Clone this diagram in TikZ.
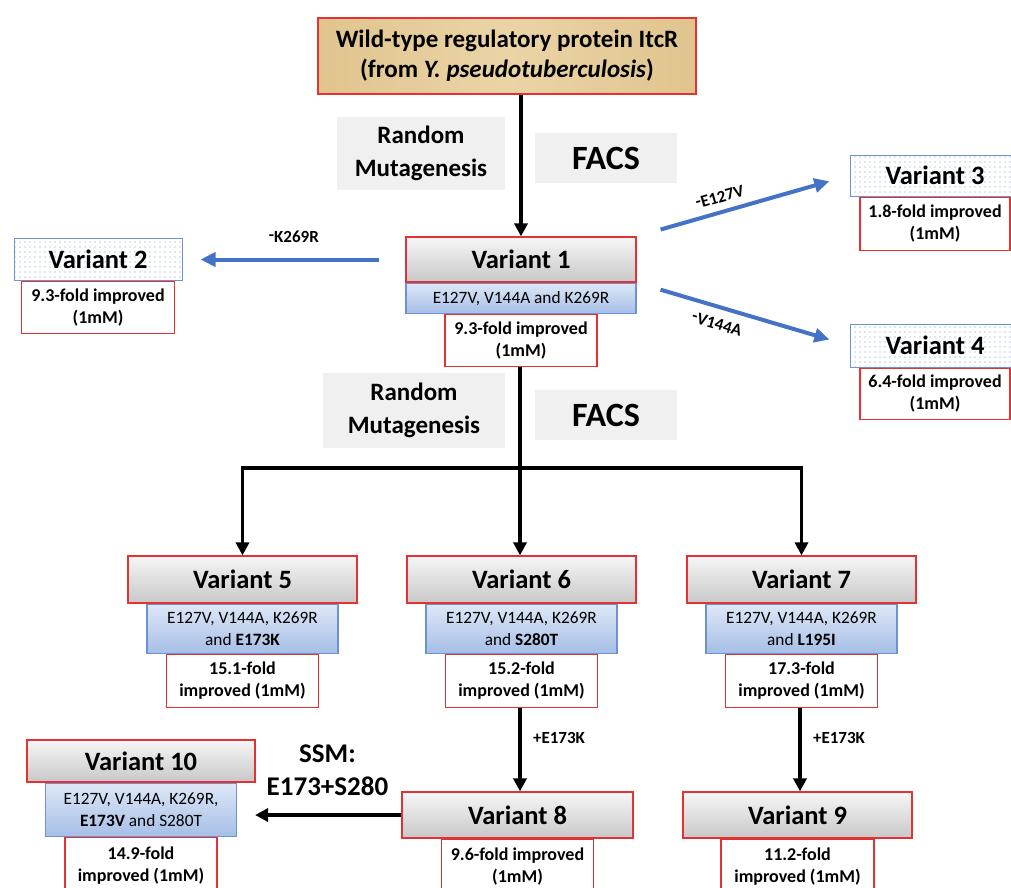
\documentclass[tikz,border=0pt]{standalone}
\usepackage{fontspec}
\setmainfont{Carlito}
\usepackage{tikz}
\usetikzlibrary{arrows.meta,patterns.meta,positioning}

\definecolor{boxred}{RGB}{228,50,50}
\definecolor{boxblue}{RGB}{110,145,210}
\definecolor{arrowblue}{RGB}{68,114,196}
\definecolor{methodgray}{RGB}{240,240,240}
\definecolor{papyrus}{RGB}{234,212,166}
\definecolor{papyrusdark}{RGB}{224,196,142}
\definecolor{headtop}{RGB}{246,246,246}
\definecolor{headbot}{RGB}{200,200,200}
\definecolor{muttop}{RGB}{222,231,246}
\definecolor{mutbot}{RGB}{166,191,231}

\tikzset{
  wt/.style={draw=boxred, line width=1.2pt, left color=papyrusdark, right color=papyrusdark, middle color=papyrus,
    font=\bfseries\fontsize{25}{30}\selectfont, align=center, inner sep=0pt},
  head/.style={draw=boxred, line width=1.2pt, top color=headtop, bottom color=headbot,
    font=\bfseries\fontsize{26.5}{30}\selectfont, inner sep=0pt},
  dothead/.style={draw=boxblue, line width=1pt, pattern={Dots[distance=5pt,radius=0.6pt]}, pattern color=boxblue,
    font=\bfseries\fontsize{26.5}{30}\selectfont, inner sep=0pt},
  mut/.style={draw=boxblue, line width=1.2pt, top color=muttop, bottom color=mutbot,
    font=\fontsize{17.3}{22}\selectfont, align=center, inner sep=0pt},
  fold/.style={draw=boxred, line width=1.2pt, fill=white,
    font=\bfseries\fontsize{18}{22}\selectfont, align=center, inner sep=0pt},
  method/.style={fill=methodgray, font=\bfseries\fontsize{25}{33}\selectfont, align=center, inner sep=0pt},
  facs/.style={fill=methodgray, font=\bfseries\fontsize{34}{40}\selectfont, inner sep=0pt},
  blackarrow/.style={line width=3.5pt, -{Triangle[length=13pt,width=13pt]}},
  bluearrow/.style={arrowblue, line width=4pt, -{Triangle[length=15pt,width=14pt]}},
  cut/.style={font=\bfseries\fontsize{17}{20}\selectfont, text=black}
}

\newcommand{\minus}{\raisebox{0.2ex}{-}}

\begin{document}
\begin{tikzpicture}[x=1pt,y=-1pt]
  \useasboundingbox (0,0) rectangle (1011,887);
  \clip (0,0) rectangle (1011,887);

  % 野生型
  \node[wt, minimum width=378, minimum height=76] (wt) at (507,56)
    {Wild-type regulatory protein ItcR\\(from \textit{Y. pseudotuberculosis})};

  % 第一轮
  \node[method, minimum width=168, minimum height=73] (rm1) at (421,153.5) {Random\\Mutagenesis};
  \node[facs, minimum width=142, minimum height=50] (facs1) at (606,158) {FACS};

  % Variant 1
  \node[head, minimum width=230, minimum height=45] (v1) at (521,259.5) {Variant 1};
  \node[mut, minimum width=230, minimum height=30, below=0pt of v1] (v1m) {E127V, V144A and K269R};
  \node[fold, minimum width=152, minimum height=52, below=0pt of v1m] (v1f) {9.3-fold improved\\(1mM)};

  % Variant 2, 3, 4
  \node[dothead, minimum width=168, minimum height=42] (v2) at (98,259) {Variant 2};
  \node[fold, minimum width=153, minimum height=52, below=0pt of v2] (v2f) {9.3-fold improved\\(1mM)};
  \node[dothead, minimum width=170, minimum height=41] (v3) at (935,175.5) {Variant 3};
  \node[fold, minimum width=150, minimum height=53, below=0pt of v3] (v3f) {1.8-fold improved\\(1mM)};
  \node[dothead, minimum width=170, minimum height=43] (v4) at (935,345.5) {Variant 4};
  \node[fold, minimum width=150, minimum height=51, below=0pt of v4] (v4f) {6.4-fold improved\\(1mM)};

  % 蓝色箭头
  \draw[bluearrow, shorten <=26pt, shorten >=18pt] (v1.west) -- (v1.west -| v2.east)
    node[cut, midway, above=12pt] {\minus K269R};
  \draw[bluearrow, shorten <=25pt, shorten >=21pt] (v1.north east) -- (v3.west)
    node[cut, pos=0.41, above=4pt, sloped] {\minus E127V};
  \draw[bluearrow, shorten <=25pt, shorten >=21pt] (v1.south east) -- (v4.west)
    node[cut, pos=0.4, below=6pt, sloped] {\minus V144A};

  % 第二轮
  \node[method, minimum width=182, minimum height=75] (rm2) at (414,410.5) {Random\\Mutagenesis};
  \node[facs, minimum width=142, minimum height=50] (facs2) at (606,415) {FACS};

  % Variant 5, 6, 7
  \node[head, minimum width=229, minimum height=47] (v5) at (242.5,579.5) {Variant 5};
  \node[mut, minimum width=191, minimum height=49, below=0pt of v5] (v5m) {E127V, V144A, K269R\\and \textbf{E173K}};
  \node[fold, minimum width=152, minimum height=53, below=0pt of v5m] (v5f) {15.1-fold\\improved (1mM)};

  \node[head, minimum width=229, minimum height=47] (v6) at (521.5,579.5) {Variant 6};
  \node[mut, minimum width=191, minimum height=49, below=0pt of v6] (v6m) {E127V, V144A, K269R\\and \textbf{S280T}};
  \node[fold, minimum width=152, minimum height=53, below=0pt of v6m] (v6f) {15.2-fold\\improved (1mM)};

  \node[head, minimum width=229, minimum height=47] (v7) at (801.5,579.5) {Variant 7};
  \node[mut, minimum width=191, minimum height=49, below=0pt of v7] (v7m) {E127V, V144A, K269R\\and \textbf{L195I}};
  \node[fold, minimum width=152, minimum height=53, below=0pt of v7m] (v7f) {17.3-fold\\improved (1mM)};

  % Variant 8, 9
  \node[head, minimum width=231, minimum height=46] (v8) at (517.5,815) {Variant 8};
  \node[fold, minimum width=152, minimum height=54, below=0pt of v8] (v8f) {9.6-fold improved\\(1mM)};
  \node[head, minimum width=229, minimum height=46] (v9) at (797.5,815) {Variant 9};
  \node[fold, minimum width=153, minimum height=54, below=0pt of v9] (v9f) {11.2-fold\\improved (1mM)};

  % Variant 10
  \node[head, minimum width=228, minimum height=42] (v10) at (141,761) {Variant 10};
  \node[mut, minimum width=191, minimum height=53, below=0pt of v10] (v10m) {E127V, V144A, K269R,\\\textbf{E173V} and S280T};
  \node[fold, minimum width=152, minimum height=57, below=0pt of v10m] (v10f) {14.9-fold\\improved (1mM)};

  % 黑色箭头
  \draw[blackarrow] (v1.north |- wt.south) -- (v1.north);
  \coordinate (split) at (520,468);
  \draw[line width=3.5pt] (v1f.south -| split) -- (split);
  \draw[line width=3.5pt, line cap=rect] (split -| v5.north) -- (split -| v7.north);
  \draw[blackarrow] (split -| v5.north) -- (v5.north);
  \draw[blackarrow] (split) -- (split |- v6.north);
  \draw[blackarrow] (split -| v7.north) -- (v7.north);

  \draw[blackarrow] (v6f.south -| split) -- (split |- v8.north)
    node[cut, pos=0.36, right=8pt] {+E173K};
  \draw[blackarrow] (v7f.south -| 800,0) -- (v9.north -| 800,0)
    node[cut, pos=0.36, right=8pt] {+E173K};
  \draw[blackarrow, shorten >=18pt] (v8.west) -- (v8.west -| v10m.east)
    node[pos=0.45, above=14pt, font=\bfseries\fontsize{27}{33}\selectfont, align=center] {SSM:\\E173+S280};
\end{tikzpicture}
\end{document}
